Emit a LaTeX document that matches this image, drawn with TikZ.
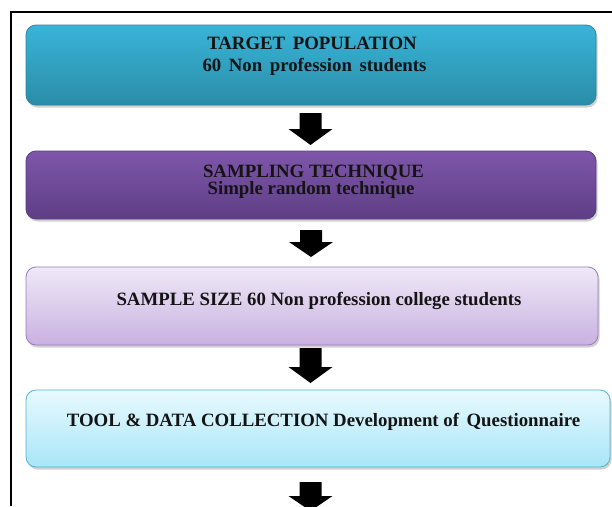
\documentclass[tikz,border=0pt]{standalone}
\usepackage{fontspec}
\setmainfont{Liberation Serif}
\usetikzlibrary{shadows}
\definecolor{bAtop}{HTML}{39B4D8}
\definecolor{bAbot}{HTML}{2A8DA8}
\definecolor{bAline}{HTML}{2A87A2}
\definecolor{bBtop}{HTML}{7E56AA}
\definecolor{bBbot}{HTML}{5E3E85}
\definecolor{bBline}{HTML}{5A3B80}
\definecolor{bCtop}{HTML}{EFE9F7}
\definecolor{bCbot}{HTML}{C8B1E0}
\definecolor{bCline}{HTML}{9A7BBE}
\definecolor{bDtop}{HTML}{E8F9FE}
\definecolor{bDbot}{HTML}{A9E6F8}
\definecolor{bDline}{HTML}{4FB6D5}
\definecolor{txt}{HTML}{141414}
\tikzset{
  flowbox/.style={rounded corners=10pt, line width=0.8pt,
    drop shadow={shadow xshift=1.5pt, shadow yshift=-2.5pt, opacity=0.3, fill=black!60}},
  boxtext/.style={anchor=base, font=\fontsize{18.8}{20}\selectfont\bfseries, text=txt, inner sep=0pt},
  blockarr/.style={fill=black}
}
\newcommand\widesp{\hspace{0.4em}}
\newcommand\blockarrow[3]{%
  \fill[blockarr] (#1) ++(-11,0) -- ++(22,0) -- ++(0,#2) -- ++(11,0) -- ++(-22,#3) -- ++(-22,-#3) -- ++(11,0) -- cycle;}
\begin{document}
\begin{tikzpicture}[x=1pt,y=-1pt]
\useasboundingbox (0,0) rectangle (612,506);
\fill[white] (0,0) rectangle (612,506);
% frame
\draw[line width=2pt] (11,506) -- (11,12) -- (612,12);
% boxes
\path[flowbox, top color=bAtop, bottom color=bAbot, draw=bAline] (26,25) rectangle (596,105);
\path[flowbox, top color=bBtop, bottom color=bBbot, draw=bBline] (26,151) rectangle (596,219);
\path[flowbox, top color=bCtop, bottom color=bCbot, draw=bCline] (26,267) rectangle (598,345);
\path[flowbox, top color=bDtop, bottom color=bDbot, draw=bDline] (26,390) rectangle (610,467);
% texts
\node[boxtext] (t1a) at (312,49) {TARGET\widesp POPULATION};
\node[boxtext] (t1b) at (314.5,71) {60\widesp Non\widesp profession\widesp students};
\node[boxtext] (t2a) at (313.5,177) {SAMPLING TECHNIQUE};
\node[boxtext] (t2b) at (311,194) {Simple random technique};
\node[boxtext] (t3) at (319,305) {SAMPLE SIZE 60 Non profession college students};
\node[boxtext] (t4) at (323.5,426) {TOOL \& DATA COLLECTION Development of\widesp Questionnaire};
% arrows
\coordinate (a1) at (310.5,113);
\coordinate (a2) at (311,230);
\coordinate (a3) at (310.5,348);
\coordinate (a4) at (310.5,482);
\blockarrow{a1}{16}{16}
\blockarrow{a2}{12}{15}
\blockarrow{a3}{19}{16}
\blockarrow{a4}{14}{15}
\end{tikzpicture}
\end{document}
